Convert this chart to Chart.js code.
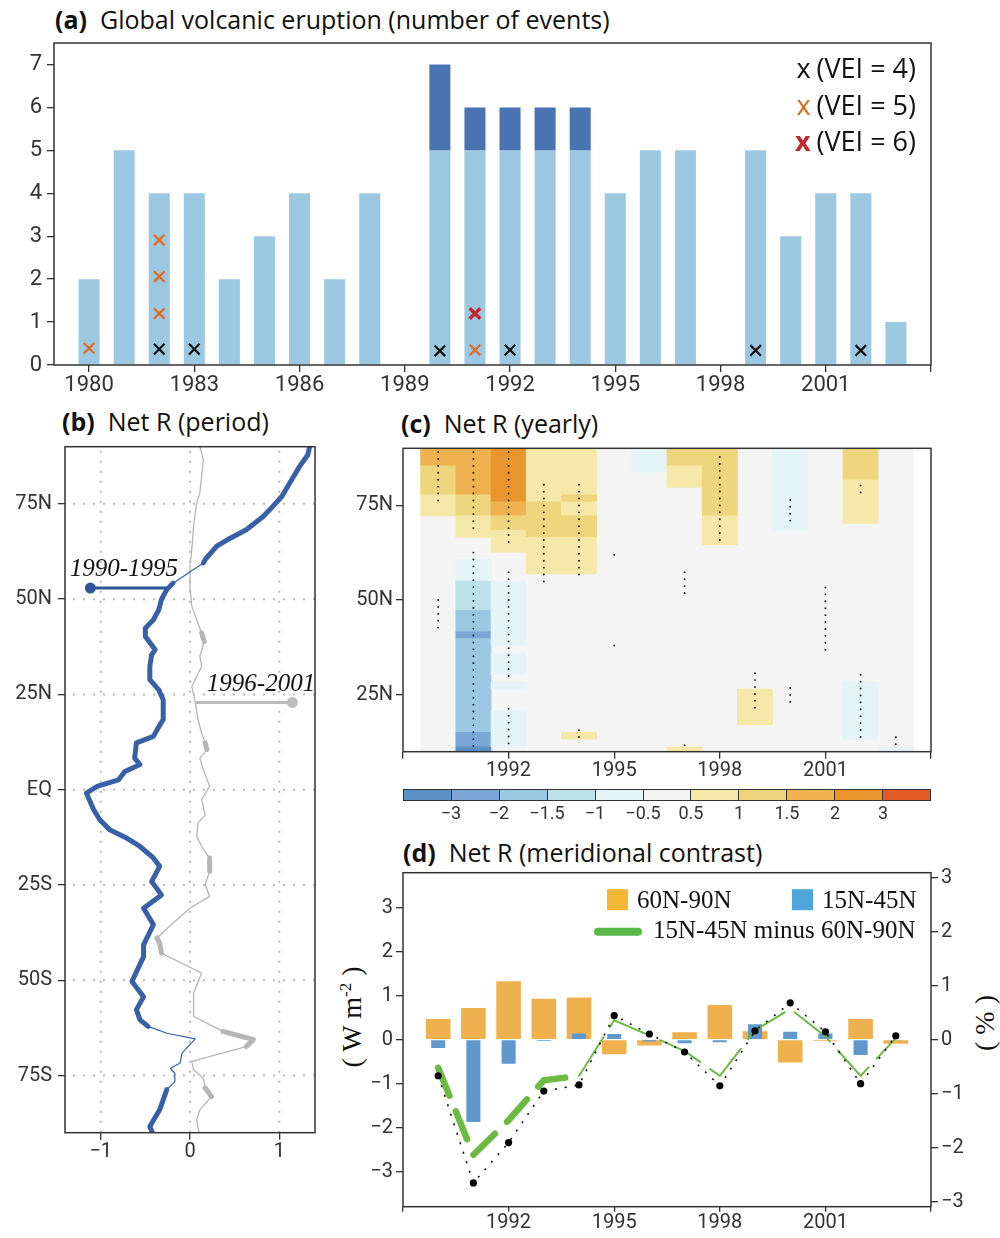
<!DOCTYPE html>
<html><head><meta charset="utf-8">
<script src="https://cdn.jsdelivr.net/npm/chart.js@4.4.1/dist/chart.umd.min.js"></script>
<style>
html,body{margin:0;padding:0;background:#fff}
#wrap{position:relative;width:1000px;height:1238px;overflow:hidden;background:#fff}
canvas{position:absolute;left:0;top:0}
.ttl{position:absolute;font-family:'Open Sans',sans-serif;font-size:25px;line-height:25px;color:#111;white-space:nowrap}
.ttl b{font-weight:700}
.cb{position:absolute;left:403px;top:789px;width:528px;height:12px;display:flex;border:1.5px solid #333;box-sizing:border-box}
.cb div{flex:1;border-left:1px solid #333}
.cb div:first-child{border-left:none}
.cbl{position:absolute;top:804px;font-family:Roboto,sans-serif;font-size:18px;line-height:18px;color:#333;transform:translateX(-50%);white-space:nowrap}
.ax{position:absolute;font-family:'Liberation Serif',serif;font-size:28px;line-height:28px;white-space:nowrap;color:#111}
.ax sup{font-size:17px;line-height:0;vertical-align:super}
</style></head>
<body><div id="wrap">
<div class="ttl" style="left:55px;top:7px"><b>(a)</b>&nbsp;&nbsp;Global volcanic eruption (number of events)</div>
<div class="ttl" style="left:62px;top:409px"><b>(b)</b>&nbsp;&nbsp;Net R (period)</div>
<div class="ttl" style="left:401px;top:411px"><b>(c)</b>&nbsp;&nbsp;Net R (yearly)</div>
<div class="ttl" style="left:403px;top:840px"><b>(d)</b>&nbsp;&nbsp;Net R (meridional contrast)</div>
<div class="cb" id="cb"></div>
<div class="ax" style="left:352px;top:1017px;transform:translate(-50%,-50%) rotate(-90deg)">( W m<sup>-2</sup> )</div>
<div class="ax" style="left:985px;top:1023px;transform:translate(-50%,-50%) rotate(-90deg)">( % )</div>
<canvas id="cA" width="1000" height="1238"></canvas>
<canvas id="cB" width="1000" height="1238"></canvas>
<canvas id="cC" width="1000" height="1238"></canvas>
<canvas id="cD" width="1000" height="1238"></canvas>
</div>
<script>
// ---------------- Panel (a) data ----------------
const yearsA = [1980,1981,1982,1983,1984,1985,1986,1987,1988,1989,1990,1991,1992,1993,1994,1995,1996,1997,1998,1999,2000,2001,2002,2003];
const eventsBase  = [2,5,4,4,2,3,4,2,4,0,5,5,5,5,5,4,5,5,0,5,3,4,4,1];
const eventsExtra = [0,0,0,0,0,0,0,0,0,0,2,1,1,1,1,0,0,0,0,0,0,0,0,0];
const xTicksA = [1980,1983,1986,1989,1992,1995,1998,2001,2004];
const xLabelsA = [1980,1983,1986,1989,1992,1995,1998,2001];
const yTicksA = [0,1,2,3,4,5,6,7];
const vei4Year = [1982,1983,1990,1992,1999,2002];
const vei4Pos  = [0.37,0.37,0.33,0.35,0.34,0.34];
const vei5Year = [1980,1982,1982,1982,1991];
const vei5Pos  = [0.39,1.2,2.06,2.91,0.35];
const vei6Year = [1991];
const vei6Pos  = [1.2];
const veiLegend = ['(VEI = 4)','(VEI = 5)','(VEI = 6)'];

// ---------------- Panel (b) data ----------------
const latBlue = [90,87.9,84.9,82.2,77,74.4,71.7,68.2,66,63.9,60.4,59.5,54.2,52.5,49.9,47.2,44.6,42.4,40.2,36.7,35.4,32.4,28.9,26.2,23.6,18.4,15.7,14,12.3,8.3,6.6,4.8,2.6,0.9,-0.9,-5.2,-7.9,-10.5,-12.7,-14.9,-17.9,-20.1,-24.1,-27.6,-31.1,-35.4,-40.7,-43.8,-50.3,-54.3,-57.7,-60.4,-62.1,-63.9,-65.4,-69.1,-71.7,-73.1,-74.4,-76.6,-78.7,-84,-88.4,-90];
const netR9095 = [1.34,1.32,1.23,1.16,1.03,0.93,0.82,0.63,0.45,0.30,0.17,0.15,-0.19,-0.26,-0.32,-0.35,-0.41,-0.50,-0.50,-0.39,-0.43,-0.45,-0.45,-0.35,-0.30,-0.30,-0.37,-0.41,-0.60,-0.62,-0.56,-0.73,-0.80,-1.04,-1.16,-1.08,-1.01,-0.90,-0.71,-0.56,-0.41,-0.34,-0.43,-0.32,-0.52,-0.41,-0.52,-0.52,-0.65,-0.52,-0.60,-0.56,-0.47,-0.26,0.06,-0.09,-0.11,-0.22,-0.17,-0.17,-0.26,-0.34,-0.45,-0.42];
const sig9095 = [1,1,1,1,1,1,1,1,1,1, 1,0,1,1,1,1,1,1,1,1, 1,1,1,1,1,1,1,1,1,1, 1,1,1,1,1,1,1,1,1,1, 1,1,1,1,1,1,1,1,1,1, 1,1,0,0,0,0,0,0,0,0, 1,1,1,1];
const latGrey = [90,86.6,82.2,77.9,75.2,69.1,63,58.6,53.4,48.1,44.6,41.1,38.9,35,32.4,29.7,27.1,22.8,18.4,14.9,12.3,10.5,8.3,5.2,0.9,-2.6,-6.6,-8.7,-12.3,-15.7,-17.9,-21.4,-24.9,-28,-31.1,-35,-38.9,-40.2,-42.9,-48.1,-53.4,-59.5,-63.4,-65.6,-67.4,-71.3,-73.5,-75.7,-78.3,-80.5,-84,-86.6,-90];
const netR9601 = [0.11,0.15,0.13,0.11,0.075,0.04,0.02,0,0,0.02,0.075,0.13,0.16,0.11,0.13,0.075,0.02,0.06,0.09,0.13,0.17,0.19,0.11,0.15,0.22,0.13,0.17,0.09,0.075,0.15,0.22,0.22,0.17,0.22,0,-0.19,-0.37,-0.34,-0.32,0.13,0.04,0.04,0.37,0.71,0.63,0.02,0.04,0.15,0.17,0.24,0.11,0.075,0.1];
const sig9601 = [0,0,0,0,0,0,0,0,0,0, 0,1,0,0,0,0,0,0,0,0, 1,0,0,0,0,0,0,0,0,0, 1,0,0,0,0,0,1,1,0,0, 0,0,1,1,0,0,0,0,1,0, 0,0,0];
const xTicksB = [-1,0,1];
const xLabelsB = ['\u22121','0','1'];
const latTicks = [-75,-50,-25,0,25,50,75];
const latLabels = ['75S','50S','25S','EQ','25N','50N','75N'];
const periodNames = ['1990-1995','1996-2001'];
const periodDotX = [-1.116, 1.146];
const periodLeadX = [-0.26, 0.056];
const periodLeadLat = [52.9, 22.9];
const periodTextX = [-0.74, 0.795];
const periodTextLat = [56.0, 25.8];

// ---------------- Panel (c) data ----------------
const heatYears = [1990,1991,1992,1993,1994,1995,1996,1997,1998,1999,2000,2001,2002,2003];
// [year, lat bottom, lat top, W m-2]
const heatCells = [
 [1990,85.4,90,1.75],[1990,77.7,85.4,1.25],[1990,72.2,77.7,0.75],
 [1991,77.7,90,1.75],[1991,72.2,77.7,1.25],[1991,66.5,72.2,0.75],[1991,55,60.7,-0.75],[1991,47.3,55,-1.25],[1991,41.7,47.3,-1.75],[1991,39.8,41.7,-2.5],[1991,15.1,39.8,-1.75],[1991,11.3,15.1,-2.5],[1991,10,11.3,-3.5],
 [1992,75.9,90,2.5],[1992,72.2,75.9,1.75],[1992,68.4,72.2,1.25],[1992,62.6,68.4,0.75],[1992,38,55,-0.75],[1992,30.3,36,-0.75],[1992,26.5,28.4,-0.75],[1992,11.3,20.8,-0.75],
 [1993,75.9,90,0.75],[1993,66.5,75.9,1.25],[1993,56.9,66.5,0.75],
 [1994,77.7,90,0.75],[1994,75.9,77.7,1.25],[1994,72.2,75.9,0.75],[1994,66.5,72.2,1.25],[1994,56.9,66.5,0.75],[1994,13.3,15.1,0.75],
 [1996,83.7,90,-0.75],
 [1997,85.4,90,1.25],[1997,79.7,85.4,0.75],[1997,10,11.3,0.75],
 [1998,72.2,90,1.25],[1998,64.5,72.2,0.75],
 [1999,17.1,26.5,0.75],
 [2000,68.4,90,-0.75],
 [2002,81.6,90,1.25],[2002,70.2,81.6,0.75],[2002,13.3,28.4,-0.75],
 [2003,10,11.3,-0.75]
];
// significant ranges [year, lat top, lat bottom]
const sigRanges = [
 [1990,89,75],[1990,50,41.7],
 [1991,89,67.4],[1991,62.5,11.3],
 [1992,89,64.4],[1992,57.3,28.6],[1992,21.3,11.3],
 [1993,80.4,53.1],
 [1994,80.4,56.6],[1994,15.7,13.5],
 [1995,61.9,61.8],[1995,38,37.9],
 [1997,57.3,51.5],[1997,11.7,11.6],
 [1998,87.7,64.4],
 [1999,30.7,21],
 [2000,76.4,70.7],[2000,26.8,22.8],
 [2001,53.3,36],
 [2002,80.2,78.2],[2002,30.3,13.5],
 [2003,13.8,11.7]
];
const xTicksCD = [1989,1992,1995,1998,2001,2004];
const xLabelsCD = [1992,1995,1998,2001];
const latTicksC = [25,50,75];
const latLabelsC = ['25N','50N','75N'];
const cbBounds = [-3,-2,-1.5,-1,-0.5,0.5,1,1.5,2,3];
const cbLabels = ['\u22123','\u22122','\u22121.5','\u22121','\u22120.5','0.5','1','1.5','2','3'];
const cbColors = ['#5b93c7','#7aa7d5','#9cc7e3','#bde1ea','#e4f4f7','#f4f4f4','#f5e8a8','#efd67e','#eeb34f','#ea952e','#e05a24'];

// ---------------- Panel (d) data ----------------
const dYears = [1990,1991,1992,1993,1994,1995,1996,1997,1998,1999,2000,2001,2002,2003];
const arctic6090 = [0.47,0.72,1.33,0.93,0.96,-0.33,-0.13,0.17,0.79,0.19,-0.52,-0.03,0.47,-0.09];
const sub1545 = [-0.19,-1.87,-0.55,-0.03,0.14,0.13,-0.04,-0.08,-0.06,0.35,0.18,0.14,-0.35,-0.02];
const contrastWm = [-0.82,-3.26,-2.34,-1.17,-1.03,0.55,0.13,-0.28,-1.05,0.20,0.84,0.18,-1.00,0.09];
const contrastPct = [-0.52,-2.13,-1.49,-0.75,-0.67,0.36,0.08,-0.21,-0.67,0.17,0.57,0.06,-0.67,0.03];
const yTicksD = [-3,-2,-1,0,1,2,3];
const legendD = ['60N-90N','15N-45N','15N-45N minus 60N-90N'];

// ---------------- helpers ----------------
const INK = '#333';
const F22 = {family:'Roboto', size:22};
const F20 = {family:'Roboto', size:20};
const minusFmt = v => v < 0 ? '\u2212' + Math.abs(v) : String(v);
function setTicks(list){ return function(s){ s.ticks = list.map(v => ({value:v})); }; }
function tickGrid(len){ return {display:true, drawOnChartArea:false, drawTicks:true, tickLength:len, color:INK, lineWidth:1.3, offset:false}; }
function colorOf(v){ let i = 0; while (i < cbBounds.length && v > cbBounds[i]) i++; return cbColors[i]; }
const framePlugin = {id:'frame', afterDatasetsDraw(chart){
  const {ctx, chartArea:a} = chart; ctx.save(); ctx.strokeStyle = INK; ctx.lineWidth = 1.5;
  ctx.strokeRect(a.left, a.top, a.right - a.left, a.bottom - a.top); ctx.restore(); }};
const common = {responsive:false, animation:false, events:[], plugins:{legend:{display:false}, tooltip:{enabled:false}}};
Chart.defaults.color = INK;

// colorbar
const cb = document.getElementById('cb');
cbColors.forEach(c => { const d = document.createElement('div'); d.style.background = c; cb.appendChild(d); });
cbLabels.forEach((t, i) => { const d = document.createElement('div'); d.className = 'cbl'; d.textContent = t;
  d.style.left = (403 + (i + 1) * 528 / 11) + 'px'; document.getElementById('wrap').appendChild(d); });

// ---------------- Chart (a) ----------------
const legendAPlugin = {id:'legA', afterDraw(chart){
  const {ctx, chartArea:a} = chart; ctx.save();
  const cols = ['#111','#e06a1b','#c1272d'];
  veiLegend.forEach((t, i) => {
    const yb = a.top + 35 + i * 36.5;
    ctx.font = '27px "Open Sans"'; ctx.textAlign = 'right'; ctx.fillStyle = '#111';
    const rx = a.right - 15; ctx.fillText(t, rx, yb);
    const w = ctx.measureText(t).width;
    ctx.font = (i === 2 ? 'bold ' : '') + '27px "Open Sans"'; ctx.fillStyle = cols[i];
    ctx.fillText('x', rx - w - 6, yb);
  });
  ctx.restore(); }};
function veiSet(xs, ys, col, w){ return {type:'line', data: xs.map((x,i)=>({x:x, y:ys[i]})), showLine:false, pointStyle:'crossRot', pointRadius:7.5, borderColor:col, pointBorderColor:col, pointBackgroundColor:col, pointBorderWidth:w, order:0}; }
new Chart(document.getElementById('cA'), {
  type:'bar',
  data:{datasets:[
    veiSet(vei6Year, vei6Pos, '#c1272d', 3.4),
    veiSet(vei5Year, vei5Pos, '#e06a1b', 2.2),
    veiSet(vei4Year, vei4Pos, '#111', 2.2),
    {data: yearsA.map((x,i)=>({x:x, y:[eventsBase[i], eventsBase[i]+eventsExtra[i]]})).filter((d,i)=>eventsExtra[i]>0), backgroundColor:'#4875b1', order:1},
    {data: yearsA.map((x,i)=>({x:x, y:eventsBase[i]})), backgroundColor:'#9dc8e2', order:2}
  ]},
  options:Object.assign({}, common, {
    layout:{padding:{left:4, right:69, top:43, bottom:833}},
    datasets:{bar:{grouped:false, barPercentage:0.6, categoryPercentage:1, borderWidth:0}},
    scales:{
      x:{type:'linear', offset:false, min:1979, max:2004, afterBuildTicks:setTicks(xTicksA),
         ticks:{font:F22, color:INK, padding:0, autoSkip:false, maxRotation:0, callback:v => xLabelsA.includes(v) ? String(v) : ''},
         grid:tickGrid(7), border:{display:false}, afterFit:s=>{s.height=40;}},
      y:{type:'linear', min:0, max:7.5, afterBuildTicks:setTicks(yTicksA),
         ticks:{font:F22, color:INK, padding:5, callback:v => String(v)},
         grid:tickGrid(7), border:{display:false}, afterFit:s=>{s.width=50;}}
    }
  }),
  plugins:[framePlugin, legendAPlugin]
});

// ---------------- Chart (b) ----------------
const dotGridB = {id:'dotGridB', beforeDatasetsDraw(chart){
  const {ctx, chartArea:a, scales:{x, y}} = chart; ctx.save();
  ctx.strokeStyle = '#b9b9b9'; ctx.lineWidth = 2; ctx.setLineDash([2,8]); ctx.beginPath();
  xTicksB.forEach(v => { const p = x.getPixelForValue(v); ctx.moveTo(p, a.top + 4); ctx.lineTo(p, a.bottom); });
  latTicks.forEach(v => { const p = y.getPixelForValue(v); ctx.moveTo(a.left + 8, p); ctx.lineTo(a.right, p); });
  ctx.stroke(); ctx.restore(); }};
const annB = {id:'annB', afterDatasetsDraw(chart){
  const {ctx, scales:{x, y}} = chart; ctx.save();
  ctx.font = 'italic 25px "Liberation Serif"'; ctx.fillStyle = '#111'; ctx.textAlign = 'center';
  periodNames.forEach((t,i) => ctx.fillText(t, x.getPixelForValue(periodTextX[i]), y.getPixelForValue(periodTextLat[i])));
  ctx.restore(); }};
new Chart(document.getElementById('cB'), {
  type:'scatter',
  data:{datasets:[
    {data: latGrey.map((l,i)=>({x:netR9601[i], y:l})), showLine:true, borderColor:'#b5b5b5', pointRadius:0, borderWidth:1.3,
     borderCapStyle:'round', borderJoinStyle:'round', segment:{borderWidth: c => sig9601[c.p0DataIndex] ? 5 : 1.3}, order:3},
    {data: latBlue.map((l,i)=>({x:netR9095[i], y:l})), showLine:true, borderColor:'#3760a6', pointRadius:0, borderWidth:5,
     borderCapStyle:'round', borderJoinStyle:'round', segment:{borderWidth: c => sig9095[c.p0DataIndex] ? 5 : 1.2}, order:2},
    {data:[{x:periodDotX[0], y:periodLeadLat[0]},{x:periodLeadX[0], y:periodLeadLat[0]}], showLine:true, borderColor:'#2e5597', borderWidth:3,
     pointRadius:[5.5,0], pointBackgroundColor:'#2e5597', pointBorderWidth:0, order:1},
    {data:[{x:periodLeadX[1], y:periodLeadLat[1]},{x:periodDotX[1], y:periodLeadLat[1]}], showLine:true, borderColor:'#bdbdbd', borderWidth:3,
     pointRadius:[0,5.5], pointBackgroundColor:'#bdbdbd', pointBorderWidth:0, order:1}
  ]},
  options:Object.assign({}, common, {
    layout:{padding:{left:5, right:685, top:446.7, bottom:65.3}},
    scales:{
      x:{type:'linear', min:-1.4, max:1.4, afterBuildTicks:setTicks(xTicksB),
         ticks:{font:F20, color:INK, padding:0, autoSkip:false, maxRotation:0, callback:(v,i) => xLabelsB[xTicksB.indexOf(v)]},
         grid:tickGrid(7), border:{display:false}, afterFit:s=>{s.height=40;}},
      y:{type:'linear', min:-90, max:90, afterBuildTicks:setTicks(latTicks),
         ticks:{font:F20, color:INK, padding:6, callback:v => latLabels[latTicks.indexOf(v)]},
         grid:tickGrid(7), border:{display:false}, afterFit:s=>{s.width=60;}}
    }
  }),
  plugins:[dotGridB, framePlugin, annB]
});

// ---------------- Chart (c) ----------------
const cellData = heatYears.map(y => ({x:y, y:[10,90], v:0})).concat(heatCells.map(c => ({x:c[0], y:[c[1], c[2]], v:c[3]})));
new Chart(document.getElementById('cC'), {
  type:'bar',
  data:{datasets:[
    ...sigRanges.map(r => ({type:'line', data:[{x:r[0], y:r[1]},{x:r[0], y:r[2]}], borderColor:'#111', borderWidth:1.9,
       borderDash:[0.01,6.9], borderCapStyle:'round', pointRadius:0, order:0})),
    {data:cellData, backgroundColor: ctx => colorOf(ctx.raw ? ctx.raw.v : 0), grouped:false, barPercentage:1, categoryPercentage:1, borderWidth:0, order:1}
  ]},
  options:Object.assign({}, common, {
    layout:{padding:{left:343, right:69, top:448.3, bottom:446.3}},
    scales:{
      x:{type:'linear', offset:false, min:1989, max:2004, afterBuildTicks:setTicks(xTicksCD),
         ticks:{font:F20, color:INK, padding:0, autoSkip:false, maxRotation:0, callback:v => xLabelsCD.includes(v) ? String(v) : ''},
         grid:tickGrid(7), border:{display:false}, afterFit:s=>{s.height=40;}},
      y:{type:'linear', min:10, max:90, afterBuildTicks:setTicks(latTicksC),
         ticks:{font:F20, color:INK, padding:3, callback:v => latLabelsC[latTicksC.indexOf(v)]},
         grid:tickGrid(7), border:{display:false}, afterFit:s=>{s.width=60;}}
    }
  }),
  plugins:[framePlugin]
});

// ---------------- Chart (d) ----------------
const GREEN = '#6cb944';
const legendDPlugin = {id:'legD', afterDraw(chart){
  const {ctx, chartArea:a} = chart; ctx.save();
  ctx.font = '25px "Liberation Serif"'; ctx.fillStyle = '#111'; ctx.textAlign = 'left'; ctx.textBaseline = 'alphabetic';
  ctx.fillStyle = '#f5b733'; ctx.fillRect(a.right - 324, a.top + 16.5, 21, 21);
  ctx.fillStyle = '#4ea6da'; ctx.fillRect(a.right - 139, a.top + 16.5, 21, 21);
  ctx.fillStyle = '#111';
  ctx.fillText(legendD[0], a.right - 294, a.top + 35.6);
  ctx.fillText(legendD[1], a.right - 109, a.top + 35.6);
  ctx.fillText(legendD[2], a.right - 278, a.top + 65.6);
  ctx.strokeStyle = '#5cb848'; ctx.lineWidth = 8; ctx.lineCap = 'round';
  ctx.beginPath(); ctx.moveTo(a.right - 333, a.top + 59); ctx.lineTo(a.right - 293, a.top + 59); ctx.stroke();
  ctx.restore(); }};
new Chart(document.getElementById('cD'), {
  type:'bar',
  data:{datasets:[
    {type:'line', data: dYears.map((x,i)=>({x:x, y:contrastWm[i]})), yAxisID:'y', borderColor:'#111', borderWidth:1.6, borderDash:[2,8],
     pointRadius:3.6, pointBackgroundColor:'#000', pointBorderWidth:0, order:0},
    {type:'line', data: dYears.map((x,i)=>({x:x, y:contrastPct[i]})), yAxisID:'y1', borderColor:GREEN, pointRadius:0, borderWidth:2,
     borderCapStyle:'round', segment:{borderWidth: c => c.p0DataIndex < 4 ? 6.5 : 2, borderDash: c => c.p0DataIndex < 4 ? [30,17] : [46,12]}, order:1},
    {data: dYears.map((x,i)=>({x:x, y:sub1545[i]})), yAxisID:'y', backgroundColor:'#5f98cc', barPercentage:0.4, order:2},
    {data: dYears.map((x,i)=>({x:x, y:arctic6090[i]})), yAxisID:'y', backgroundColor:'#efb14e', barPercentage:0.7, order:3}
  ]},
  options:Object.assign({}, common, {
    layout:{padding:{left:343, right:19, top:872.7, bottom:6.3}},
    datasets:{bar:{grouped:false, categoryPercentage:1, borderWidth:0}},
    scales:{
      x:{type:'linear', offset:false, min:1989, max:2004, afterBuildTicks:setTicks(xTicksCD),
         ticks:{font:F20, color:INK, padding:-1, autoSkip:false, maxRotation:0, callback:v => xLabelsCD.includes(v) ? String(v) : ''},
         grid:tickGrid(5), border:{display:false}, afterFit:s=>{s.height=25;}},
      y:{type:'linear', position:'left', min:-3.8, max:3.8, afterBuildTicks:setTicks(yTicksD),
         ticks:{font:F20, color:INK, padding:3, callback:minusFmt},
         grid:tickGrid(7), border:{display:false}, afterFit:s=>{s.width=60;}},
      y1:{type:'linear', position:'right', min:-3.09, max:3.09, afterBuildTicks:setTicks(yTicksD),
         ticks:{font:F20, color:INK, padding:3, callback:minusFmt},
         grid:tickGrid(7), border:{display:false}, afterFit:s=>{s.width=50;}}
    }
  }),
  plugins:[framePlugin, legendDPlugin]
});
</script>
</body></html>
